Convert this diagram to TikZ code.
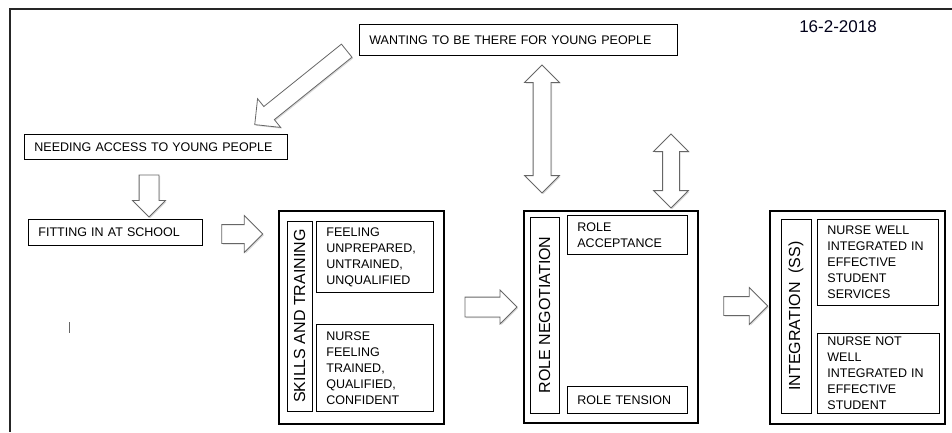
\documentclass[tikz,border=0pt]{standalone}
\usepackage{fontspec}
\setmainfont{Liberation Sans}
\usetikzlibrary{shapes.arrows,shadows}

\begin{document}
\begin{tikzpicture}[x=1pt,y=-1pt,
    every node/.style={font=\fontsize{12.5}{16}\selectfont},
    box/.style={draw,line width=0.8pt,align=left,inner xsep=10pt,inner ysep=0pt,anchor=north west},
    frame/.style={draw,line width=1.8pt,anchor=north west,inner sep=0pt},
    sidelabel/.style={draw,line width=0.8pt,rotate=90,inner sep=0pt,font=\fontsize{16}{18}\selectfont},
    fatarrow/.style={single arrow,draw=black!60,fill=white,line width=0.8pt,
      inner xsep=0pt,text height=0pt,text depth=0pt,
      drop shadow={shadow xshift=1.2pt,shadow yshift=-1.2pt,opacity=0.3}},
    twinarrow/.style={double arrow,draw=black!60,fill=white,line width=0.8pt,
      inner xsep=0pt,text height=0pt,text depth=0pt,
      drop shadow={shadow xshift=1.2pt,shadow yshift=-1.2pt,opacity=0.3}}]
  \useasboundingbox (0,0) rectangle (952,432);
  \draw[line width=2pt,black!85] (952,9) -- (10,9) -- (10,432);

  % top row
  \node[box,text width=298pt,minimum height=31pt] (want) at (359,24) {WANTING TO BE THERE FOR YOUNG PEOPLE};
  \node[font=\fontsize{17}{20}\selectfont,text=black!90!blue] (date) at (838,27) {16-2-2018};
  \node[box,text width=243pt,minimum height=25pt] (need) at (24,134) {NEEDING ACCESS TO YOUNG PEOPLE};
  \node[box,text width=154pt,minimum height=26pt] (fit) at (28,219) {FITTING IN AT SCHOOL};
  \draw[black!60,line width=0.6pt] (69,322) -- (69,333);

  % skills and training
  \node[frame,minimum width=165pt,minimum height=213pt] (skills) at (278,210) {};
  \node[sidelabel,minimum width=190pt,minimum height=25pt] (skillslab) at (299.5,316) {SKILLS AND TRAINING};
  \node[box,text width=97pt,minimum height=71pt] (unprep) at (316,221) {FEELING\\UNPREPARED,\\UNTRAINED,\\UNQUALIFIED};
  \node[box,text width=97pt,minimum height=87pt] (trained) at (316,324) {NURSE\\FEELING\\TRAINED,\\QUALIFIED,\\CONFIDENT};

  % role negotiation
  \node[frame,minimum width=174pt,minimum height=212pt] (role) at (523,210) {};
  \node[sidelabel,minimum width=196pt,minimum height=29pt] (rolelab) at (544.5,315) {ROLE NEGOTIATION};
  \node[box,text width=100pt,minimum height=39pt] (accept) at (567,215) {ROLE\\ACCEPTANCE};
  \node[box,text width=100pt,minimum height=27pt] (tension) at (567,386) {ROLE TENSION};

  % integration
  \node[frame,minimum width=175pt,minimum height=213pt] (integ) at (769,210) {};
  \node[sidelabel,minimum width=194pt,minimum height=30pt] (integlab) at (796,316) {INTEGRATION\ \ (SS)};
  \node[box,text width=101pt,minimum height=86pt] (well) at (817,219) {NURSE WELL\\INTEGRATED IN\\EFFECTIVE\\STUDENT\\SERVICES};
  \node[box,text width=102pt,minimum height=80pt] (notwell) at (817,333) {NURSE NOT\\WELL\\INTEGRATED IN\\EFFECTIVE\\STUDENT};

  % block arrows
  \node[fatarrow,rotate=218.8,minimum height=118pt,inner ysep=8pt,single arrow head extend=10pt] (a1) at (304,85) {};
  \node[fatarrow,rotate=-90,minimum height=42pt,inner ysep=9.5pt,single arrow head extend=6.5pt] (a2) at (149,191) {};
  \node[fatarrow,minimum height=41pt,inner ysep=9pt,single arrow head extend=9pt] (a3) at (237.5,234) {};
  \node[fatarrow,minimum height=52pt,inner ysep=9.5pt,single arrow head extend=7pt] (a4) at (486,307) {};
  \node[fatarrow,minimum height=44pt,inner ysep=9pt,single arrow head extend=9pt] (a5) at (741,306) {};
  \node[twinarrow,rotate=90,minimum height=128pt,inner ysep=8.5pt,double arrow head extend=8.5pt] (d1) at (542,129) {};
  \node[twinarrow,rotate=90,minimum height=74pt,inner ysep=8pt,double arrow head extend=9pt] (d2) at (671,171) {};
\end{tikzpicture}
\end{document}
